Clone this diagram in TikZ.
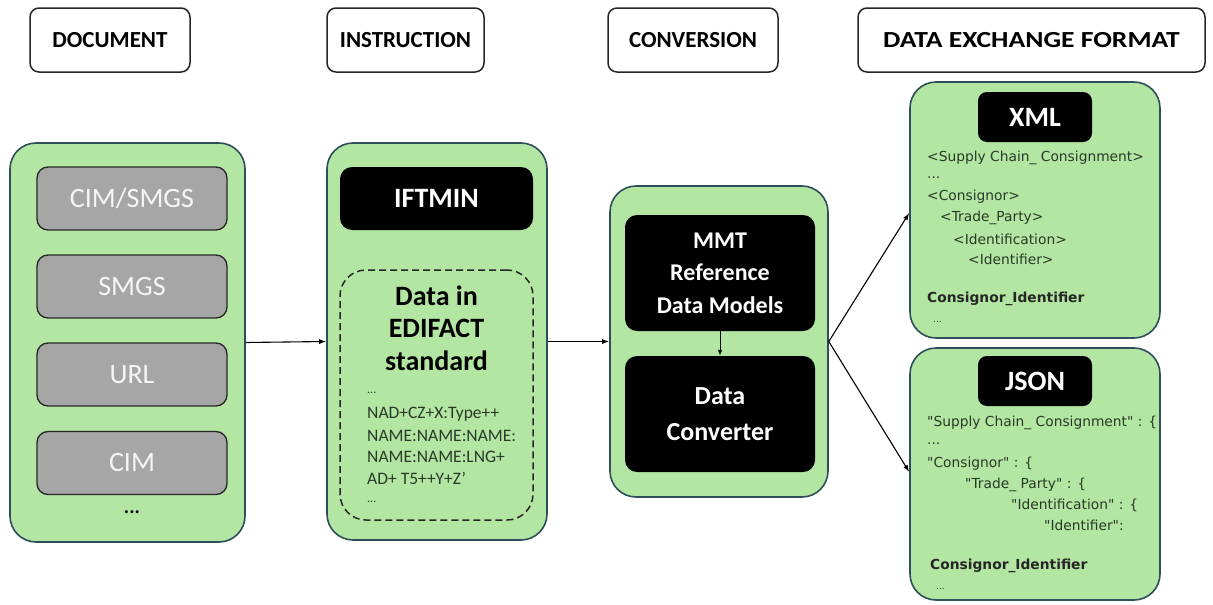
\documentclass[tikz,border=0pt]{standalone}
\usepackage{fontspec}
\usepackage{graphicx}
\setmainfont{Carlito}
\newfontfamily\codefont{DejaVu Sans}
\usetikzlibrary{arrows.meta}
\definecolor{grp}{HTML}{B3E6A2}
\definecolor{grpborder}{HTML}{2E4E5A}
\definecolor{graybox}{HTML}{A6A6A6}
\definecolor{codetxt}{HTML}{2A3A2A}
\tikzset{
  header/.style={draw=black!85, line width=1.5pt, rounded corners=9pt, fill=white,
    inner sep=0pt, font=\bfseries\fontsize{23}{26}\selectfont},
  group/.style={draw=grpborder, line width=1.6pt, rounded corners=26pt, fill=grp, inner sep=0pt},
  docbox/.style={draw=black!85, line width=1.3pt, rounded corners=11pt, fill=graybox,
    inner sep=0pt, text=white!96!black, font=\fontsize{28}{30}\selectfont, minimum width=190pt, minimum height=63pt},
  blackbox/.style={fill=black, rounded corners=12pt, inner sep=0pt, text=white,
    font=\bfseries\fontsize{25}{32.5}\selectfont, align=center},
  code/.style={anchor=west, inner sep=0pt, text=codetxt, font=\codefont\fontsize{13.8}{15}\selectfont},
  codeb/.style={anchor=west, inner sep=0pt, text=black!85, font=\codefont\bfseries\fontsize{13.8}{15}\selectfont},
  edi/.style={anchor=west, inner sep=0pt, text=codetxt, font=\fontsize{17.5}{19}\selectfont},
  flow/.style={-{Latex[length=7pt,width=5pt]}, line width=1.1pt, black},
}
\begin{document}
\begin{tikzpicture}[x=1pt,y=-1pt]
\useasboundingbox (0,0) rectangle (1213,605);

% headers
\node[header, minimum width=160pt, minimum height=64pt] (hdoc) at (110,40) {DOCUMENT};
\node[header, minimum width=157pt, minimum height=64pt] (hins) at (405.5,40) {INSTRUCTION};
\node[header, minimum width=170pt, minimum height=64pt] (hcon) at (693,40) {CONVERSION};
\node[header, minimum width=347pt, minimum height=64pt] (hdef) at (1031.5,40) {\scalebox{1.2}[1]{DATA EXCHANGE FORMAT}};

% document group
\node[group, minimum width=235pt, minimum height=399pt] (gdoc) at (127.5,342.5) {};
\node[docbox] (d1) at (132,198.5) {CIM/SMGS};
\node[docbox] (d2) at (132,286.5) {SMGS};
\node[docbox] (d3) at (132,374.5) {URL};
\node[docbox] (d4) at (132,463) {CIM};
\node[inner sep=0pt, font=\bfseries\fontsize{20}{22}\selectfont] (d5) at (132,512) {...};

% instruction group
\node[group, minimum width=220pt, minimum height=397pt] (gins) at (437,341.5) {};
\node[blackbox, minimum width=193pt, minimum height=63pt, font=\bfseries\fontsize{28}{30}\selectfont] (ift) at (436.5,198.5) {IFTMIN};
\node[draw=black!85, dashed, dash pattern=on 7pt off 4pt, line width=1.5pt, rounded corners=26pt,
      inner sep=0pt, minimum width=193pt, minimum height=250pt] (edibox) at (436.5,395) {};
\node[inner sep=0pt, align=center, font=\bfseries\fontsize{28}{32.5}\selectfont] (editit) at (436.5,328) {Data in\\EDIFACT\\standard};
\node[edi, font=\fontsize{12}{12}\selectfont] (e0) at (367,393) {...};
\node[edi] (e1) at (367,414) {NAD+CZ+X:Type++};
\node[edi] (e2) at (367,435.5) {NAME:NAME:NAME:};
\node[edi] (e3) at (367,457) {NAME:NAME:LNG+};
\node[edi] (e4) at (367,478.5) {AD+ T5++Y+Z’};
\node[edi, font=\fontsize{12}{12}\selectfont] (e5) at (367,502) {...};

% conversion group
\node[group, minimum width=218pt, minimum height=311pt] (gcon) at (719,341.5) {};
\node[blackbox, minimum width=190pt, minimum height=116pt, font=\bfseries\fontsize{24}{32.5}\selectfont] (mmt) at (720,273) {MMT\\Reference\\Data Models};
\node[blackbox, minimum width=190pt, minimum height=116pt, font=\bfseries\fontsize{26}{36}\selectfont] (conv) at (720,414) {Data\\Converter};
\draw[flow, -{Latex[length=6pt,width=4.5pt]}, line width=0.9pt] (mmt.south) -- (conv.north);

% XML group
\node[group, minimum width=250pt, minimum height=256pt] (gxml) at (1035,210) {};
\node[blackbox, minimum width=114pt, minimum height=50pt, rounded corners=9pt, font=\bfseries\fontsize{28}{30}\selectfont] (xml) at (1035,117) {XML};
\node[code] (x1) at (927,158) {<Supply Chain\_ Consignment>};
\node[code] (x2) at (927,178) {...};
\node[code] (x3) at (927,197) {<Consignor>};
\node[code] (x4) at (940,218) {<Trade\_Party>};
\node[code] (x5) at (953,239) {<Identification>};
\node[code] (x6) at (968,259) {<Identifier>};
\node[codeb] (x7) at (927,299) {Consignor\_Identifier};
\node[code, font=\codefont\fontsize{9}{10}\selectfont] (x8) at (933,322) {...};

% JSON group
\node[group, minimum width=250pt, minimum height=252pt] (gjson) at (1035,474) {};
\node[blackbox, minimum width=114pt, minimum height=50pt, rounded corners=9pt, font=\bfseries\fontsize{28}{30}\selectfont] (json) at (1035,381) {JSON};
\begin{scope}
\clip ([xshift=-1pt]gjson.north west) rectangle ([xshift=-1pt]gjson.south east);
\node[code] (j1) at (927,423) {"Supply Chain\_ Consignment" : \{};
\end{scope}
\node[code] (j2) at (927,444) {...};
\node[code] (j3) at (927,464) {"Consignor" : \{};
\node[code] (j4) at (965,485) {"Trade\_ Party" : \{};
\node[code] (j5) at (1011,505) {"Identification" : \{};
\node[code] (j6) at (1044,525) {"Identifier":};
\node[codeb] (j7) at (930,566) {Consignor\_Identifier};
\node[code, font=\codefont\fontsize{9}{10}\selectfont] (j8) at (936,589) {...};

% connectors
\draw[flow] (gdoc.east) -- (gins.west);
\draw[flow] (gins.east) -- (gcon.west);
\coordinate (cout) at (gcon.east);
\coordinate (xin) at ([yshift=-3pt]gxml.west);
\coordinate (jin) at ([yshift=2pt]gjson.west);
\draw[flow] (cout) -- (xin);
\draw[flow] (cout) -- (jin);
\end{tikzpicture}
\end{document}
